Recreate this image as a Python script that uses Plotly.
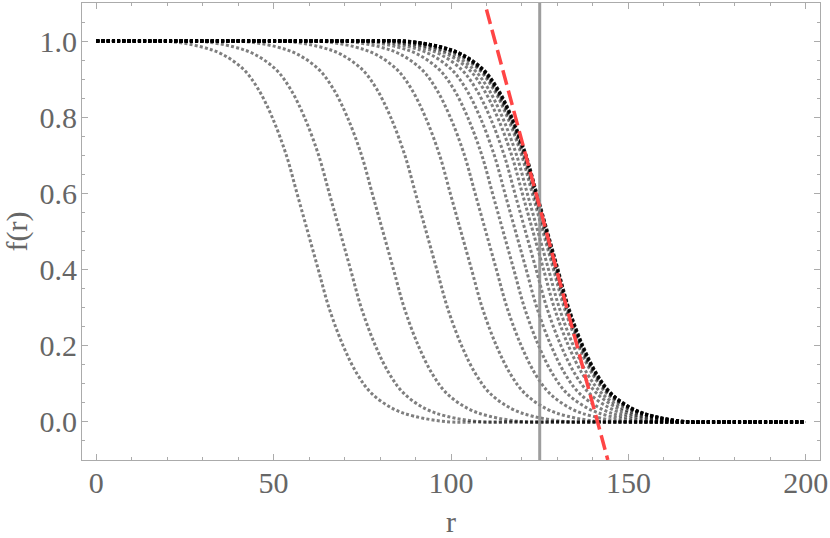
import plotly.graph_objects as go

# centres (f = 0.5 crossing) of the dotted curves
CENTERS = [59.6, 68.7, 80.8, 93.0, 102.8, 109.8, 114.7, 118.2, 121.0, 123.1,
           124.5, 125.9, 126.4, 126.7, 126.9, 127.0, 127.1, 127.15, 127.2]

# common edge profile of every curve: offset from centre -> f(r)
PROFILE_DR = [-50, -40, -30, -24, -18, -14, -10, -6, -3, 0, 3, 6, 10, 14, 18, 24, 30, 40, 50]
PROFILE_F = [1.0, 1.0, 0.985, 0.965, 0.925, 0.875, 0.80, 0.70, 0.60, 0.50,
             0.40, 0.30, 0.20, 0.125, 0.075, 0.035, 0.015, 0.0, 0.0]

R_MIN, R_MAX = 0, 200

# red tangent line end points and the vertical marker
TANGENT_R = [110.0, 144.2]
TANGENT_F = [1.083, -0.1]
MARK_R = 125

X_TICKS = [0, 50, 100, 150, 200]
Y_TICKS = [0.0, 0.2, 0.4, 0.6, 0.8, 1.0]

FRAME = "#ababab"
LABEL = "#666666"
FONT = "Liberation Serif, Times New Roman, serif"
FSIZE = 30

fig = go.Figure()

for c in CENTERS:
    pts = [(c + d, f) for d, f in zip(PROFILE_DR, PROFILE_F) if R_MIN < c + d < R_MAX]
    xs = [R_MIN] + [p[0] for p in pts] + [R_MAX]
    ys = [PROFILE_F[0]] + [p[1] for p in pts] + [PROFILE_F[-1]]
    fig.add_trace(go.Scatter(
        x=xs, y=ys, mode="lines",
        line=dict(color="rgba(0,0,0,0.5)", width=3, dash="3px,2.2px",
                  shape="spline", smoothing=1),
        hoverinfo="skip", showlegend=False,
    ))

fig.add_trace(go.Scatter(
    x=[MARK_R, MARK_R], y=[-0.1, 1.1], mode="lines",
    line=dict(color="rgba(140,140,140,0.85)", width=3),
    hoverinfo="skip", showlegend=False,
))

fig.add_trace(go.Scatter(
    x=TANGENT_R, y=TANGENT_F, mode="lines",
    line=dict(color="#ff4545", width=3.5, dash="15px,6px"),
    hoverinfo="skip", showlegend=False,
))

axis_common = dict(
    showgrid=False, zeroline=False,
    showline=True, linecolor=FRAME, linewidth=1.2, mirror="ticks",
    ticks="inside", ticklen=6, tickwidth=1, tickcolor=FRAME,
    tickfont=dict(family=FONT, size=FSIZE, color=LABEL),
    ticklabeloverflow="allow",
)

fig.update_layout(
    width=830, height=538,
    paper_bgcolor="white", plot_bgcolor="white",
    margin=dict(l=82, r=7, t=2, b=78),
    font=dict(family=FONT, color=LABEL),
    xaxis=dict(
        range=[-4, 204], tickvals=X_TICKS, ticklabelstandoff=-4,
        minor=dict(ticks="inside", dtick=10, ticklen=3, tickcolor=FRAME),
        title=dict(text="r", font=dict(family=FONT, size=FSIZE, color=LABEL), standoff=13),
        **axis_common,
    ),
    yaxis=dict(
        range=[-0.1, 1.1], tickvals=Y_TICKS, tickformat=".1f", ticklabelstandoff=-2,
        minor=dict(ticks="inside", dtick=0.05, ticklen=3, tickcolor=FRAME),
        title=dict(text="f(r)", font=dict(family=FONT, size=FSIZE, color=LABEL), standoff=10),
        **axis_common,
    ),
)

fig.write_html("out.html", config={"displayModeBar": False},
               post_script="document.body.style.margin='0';")
